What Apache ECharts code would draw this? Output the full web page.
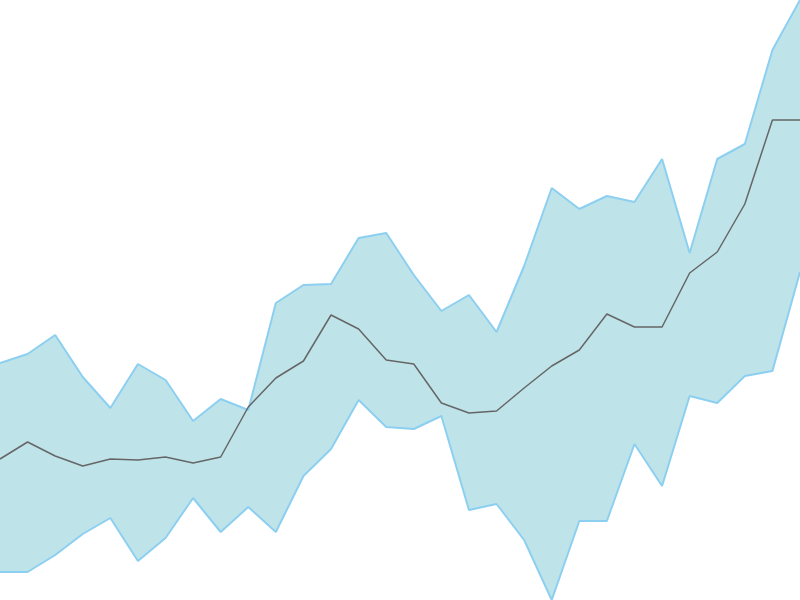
<!DOCTYPE html>
<html>
<head>
<meta charset="utf-8">
<script src="https://cdn.jsdelivr.net/npm/echarts@6/dist/echarts.min.js"></script>
<style>
  html, body { margin: 0; padding: 0; background: #fff; }
  #chart-container { width: 800px; height: 600px; }
</style>
</head>
<body>
<div id="chart-container"></div>
<script>
// 类目（30个点）
const categories = Array.from({ length: 30 }, (_, i) => String(i + 1));

// 区间下界
const lowerValues = [2.8, 2.8, 4.5, 6.6, 8.2, 3.9, 6.2, 10.2, 6.8, 9.3,
  6.8, 12.4, 15.1, 20.0, 17.3, 17.1, 18.4, 9.0, 9.6, 6.0,
  0.0, 7.9, 7.9, 15.6, 11.4, 20.4, 19.7, 22.4, 22.9, 32.8];

// 中间值
const meanValues = [14.1, 15.8, 14.4, 13.4, 14.1, 14.0, 14.3, 13.7, 14.3, 19.3,
  22.2, 23.9, 28.5, 27.1, 24.0, 23.6, 19.7, 18.7, 18.9, 21.2,
  23.4, 25.0, 28.6, 27.3, 27.3, 32.7, 34.8, 39.6, 48.0, 48.0];

// 区间上界
const upperValues = [23.7, 24.6, 26.5, 22.3, 19.2, 23.6, 22.0, 17.9, 20.1, 19.0,
  29.7, 31.5, 31.6, 36.2, 36.7, 32.5, 28.9, 30.5, 26.8, 33.4,
  41.2, 39.1, 40.4, 39.8, 44.1, 34.7, 44.1, 45.6, 55.0, 60.0];

const chart = echarts.init(document.getElementById('chart-container'));

const option = {
  animation: false,
  grid: { left: 0, right: 0, top: 0, bottom: 0 },
  xAxis: {
    type: 'category',
    data: categories,
    boundaryGap: false,
    show: false
  },
  yAxis: {
    type: 'value',
    min: 0,
    max: 60,
    show: false
  },
  series: [
    {
      name: 'L',
      type: 'line',
      data: lowerValues,
      stack: 'band',
      symbol: 'none',
      lineStyle: { color: '#8ccff0', width: 2 }
    },
    {
      name: 'U',
      type: 'line',
      // 上界减下界，叠加后形成区间
      data: upperValues.map((v, i) => +(v - lowerValues[i]).toFixed(2)),
      stack: 'band',
      symbol: 'none',
      lineStyle: { color: '#8ccff0', width: 2 },
      areaStyle: { color: '#bee4ea', opacity: 1 }
    },
    {
      name: 'mean',
      type: 'line',
      data: meanValues,
      symbol: 'none',
      lineStyle: { color: '#666666', width: 1.5 }
    }
  ]
};

chart.setOption(option);
</script>
</body>
</html>
